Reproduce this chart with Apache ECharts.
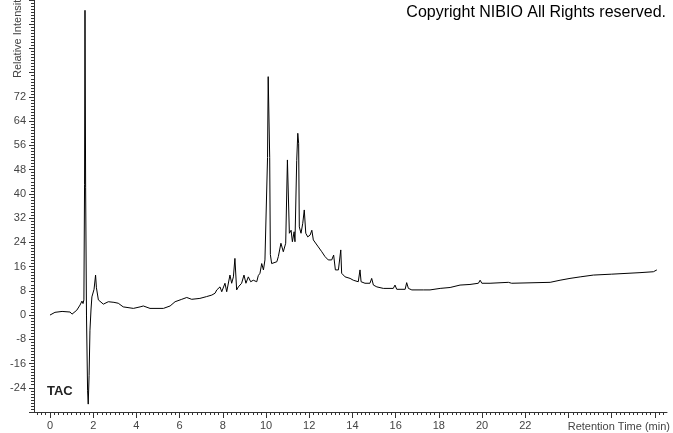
<!DOCTYPE html>
<html>
<head>
<meta charset="utf-8">
<script src="https://cdn.jsdelivr.net/npm/echarts@6/dist/echarts.min.js"></script>
<style>
  html, body { margin: 0; padding: 0; background: #fff; }
  #main { width: 673px; height: 433px; }
</style>
</head>
<body>
<div id="main"></div>
<script>
// retention time (min) and relative intensity
var times = [
  0.0, 0.23, 0.56, 0.93, 1.02, 1.24, 1.39, 1.48, 1.53, 1.57, 1.60, 1.62, 1.65, 1.69, 1.74, 1.77, 1.81, 1.85, 1.90, 1.94,
  2.04, 2.11, 2.15, 2.24, 2.31, 2.47, 2.70, 2.96, 3.16, 3.24, 3.39, 3.86, 4.17, 4.32, 4.63, 5.25, 5.56, 5.79, 6.10, 6.33,
  6.56, 6.94, 7.25, 7.49, 7.64, 7.72, 7.79, 7.87, 7.95, 8.10, 8.18, 8.33, 8.41, 8.49, 8.56, 8.64, 8.72, 8.87, 8.98, 9.07,
  9.18, 9.29, 9.41, 9.57, 9.64, 9.72, 9.80, 9.88, 9.95, 10.03, 10.07, 10.10, 10.14, 10.17, 10.20, 10.26, 10.34, 10.50, 10.57, 10.69,
  10.80, 10.91, 10.99, 11.03, 11.08, 11.16, 11.22, 11.30, 11.34, 11.42, 11.47, 11.51, 11.54, 11.62, 11.70, 11.77, 11.84, 11.93, 12.04, 12.12,
  12.19, 12.27, 12.42, 12.58, 12.73, 12.88, 13.04, 13.13, 13.21, 13.35, 13.46, 13.50, 13.66, 13.89, 14.04, 14.27, 14.35, 14.40, 14.58, 14.81,
  14.89, 14.97, 15.13, 15.43, 15.89, 15.97, 16.05, 16.44, 16.51, 16.59, 16.75, 17.28, 17.59, 18.06, 18.52, 18.98, 19.44, 19.83, 19.91, 19.99,
  20.37, 21.22, 21.30, 21.37, 23.15, 23.61, 24.07, 24.54, 25.15, 26.00, 26.08, 27.31, 27.93, 28.09
];
var intensity = [
  0.0, 0.9, 1.2, 1.0, 0.3, 1.6, 3.3, 4.6, 3.8, 5.0, 43, 100.6, 42, 0, -25, -29.4, -20, -5, 2, 6,
  8.5, 13.2, 9, 5, 4.4, 3.6, 4.4, 4.2, 3.9, 3.3, 2.7, 2.2, 2.7, 3.0, 2.2, 2.2, 3.0, 4.4, 5.2, 5.8,
  5.2, 5.5, 6.1, 6.6, 7.2, 8.3, 7.7, 9.3, 7.7, 10.5, 7.7, 13.2, 10.5, 12.6, 18.7, 8.3, 9.3, 10.5, 13.2, 10.5,
  12.6, 11, 11.5, 11, 13, 13.8, 17, 14.9, 18.2, 17.6, 52, 78.7, 78.7, 52, 20, 17, 16.5, 17.6, 19.3, 23.7,
  20.9, 23.7, 51.2, 51, 27, 28, 24.2, 27.5, 24.2, 51, 60, 56.7, 29.1, 27, 30.3, 34.7, 27, 25.8, 26.4, 28,
  24.8, 24.2, 22.5, 20.9, 19.3, 18.2, 18.2, 19.8, 14.9, 14.9, 21.5, 13.8, 12.6, 12.1, 11.5, 11.0, 14.9, 11.0, 10.5, 10.5,
  12.1, 9.9, 9.3, 8.8, 8.8, 9.9, 8.5, 8.5, 10.7, 8.8, 8.3, 8.3, 8.3, 8.8, 9.1, 9.9, 10.1, 10.5, 11.5, 10.5,
  10.5, 10.8, 11.2, 10.5, 10.8, 11.5, 12.1, 12.6, 13.2, 13.5, 13.9, 14.0, 14.3, 14.9
];
var xLabels = [0, 2, 4, 6, 8, 10, 12, 14, 16, 18, 20, 22];
var xMajorTicks = [0, 2, 4, 6, 8, 10, 12, 14, 16, 18, 20, 22, 24, 26, 28];
var yLabelMin = -24, yLabelMax = 72;

var xMinorTicks = [];
for (var i = -3; i <= 142; i++) {
  xMinorTicks.push(Math.round(i * 2) / 10);
}

var trace = times.map(function (t, k) { return [t, intensity[k]]; });

var myChart = echarts.init(document.getElementById('main'));
myChart.setOption({
  animation: false,
  backgroundColor: '#fff',
  grid: { left: 34, right: 6, top: 0, bottom: 21 },
  xAxis: [
    {
      type: 'value',
      position: 'bottom',
      min: -0.74,
      max: 28.56,
      axisLine: { onZero: false, lineStyle: { color: '#333', width: 1 } },
      axisTick: { customValues: xMinorTicks, length: 3, lineStyle: { color: '#333' } },
      axisLabel: { show: false },
      splitLine: { show: false }
    },
    {
      type: 'value',
      position: 'bottom',
      min: -0.74,
      max: 28.56,
      axisLine: { show: false, onZero: false },
      axisTick: { customValues: xMajorTicks, length: 6, lineStyle: { color: '#333' } },
      axisLabel: {
        customValues: xLabels,
        color: '#444',
        fontSize: 11,
        fontFamily: 'Liberation Sans, Arial, sans-serif',
        margin: 8
      },
      splitLine: { show: false }
    }
  ],
  yAxis: {
    type: 'value',
    min: -32,
    max: 104,
    interval: 8,
    axisLine: { show: true, onZero: false, lineStyle: { color: '#333', width: 1 } },
    axisTick: { show: true, length: 5, lineStyle: { color: '#333' } },
    minorTick: { show: true, splitNumber: 8, length: 3, lineStyle: { color: '#333' } },
    axisLabel: {
      color: '#444',
      fontSize: 11,
      fontFamily: 'Liberation Sans, Arial, sans-serif',
      margin: 8,
      formatter: function (v) {
        return (v >= yLabelMin && v <= yLabelMax) ? String(v) : '';
      }
    },
    splitLine: { show: false }
  },
  graphic: [
    {
      type: 'text',
      x: 18, y: 78,
      rotation: Math.PI / 2,
      style: {
        text: 'Relative Intensity',
        fill: '#444',
        font: '11px Liberation Sans, Arial, sans-serif',
        textAlign: 'left',
        textVerticalAlign: 'middle'
      }
    },
    {
      type: 'text',
      right: 7, top: 5,
      style: {
        text: 'Copyright NIBIO All Rights reserved.',
        fill: '#000',
        font: '16px Liberation Sans, Arial, sans-serif'
      }
    },
    {
      type: 'text',
      left: 47, top: 385,
      style: {
        text: 'TAC',
        fill: '#222',
        font: 'bold 13px Liberation Sans, Arial, sans-serif'
      }
    },
    {
      type: 'text',
      right: 3, top: 421,
      style: {
        text: 'Retention Time (min)',
        fill: '#444',
        font: '11px Liberation Sans, Arial, sans-serif'
      }
    }
  ],
  series: [
    {
      name: 'TAC',
      type: 'line',
      xAxisIndex: 0,
      data: trace,
      showSymbol: false,
      symbol: 'none',
      lineStyle: { color: '#000', width: 1 }
    }
  ]
});
</script>
</body>
</html>
